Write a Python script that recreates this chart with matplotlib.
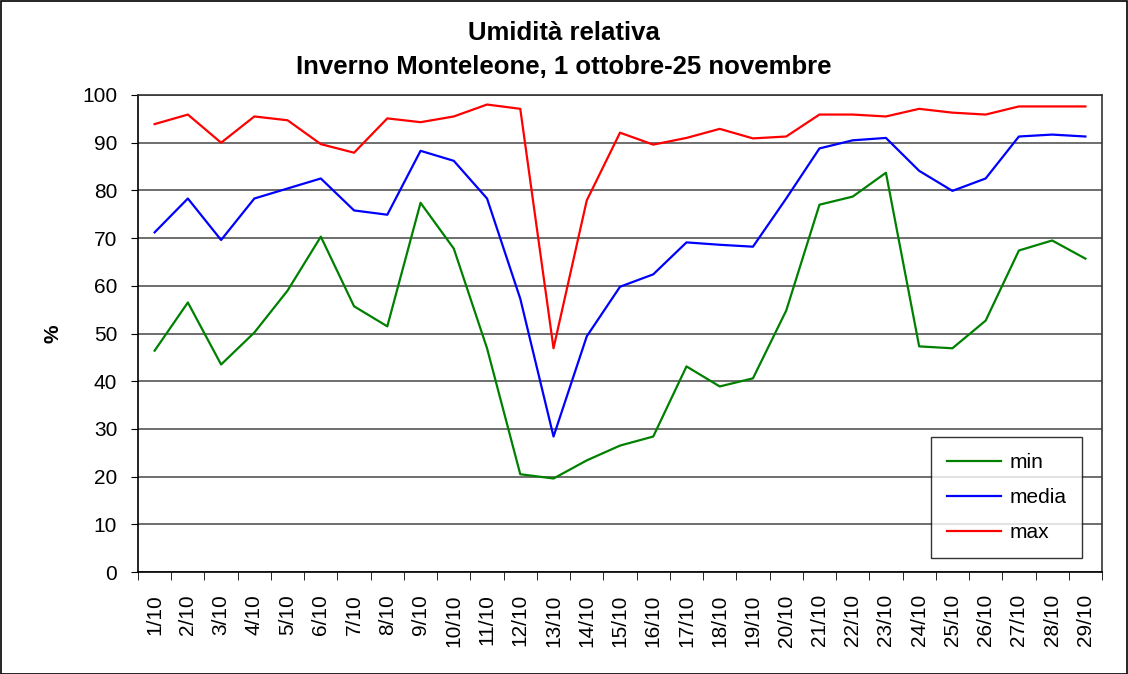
import matplotlib
matplotlib.use("Agg")
import matplotlib.pyplot as plt
from matplotlib.patches import Rectangle
import numpy as np

days = [f"{d}/10" for d in range(1, 30)]
v_min = [46.4, 56.5, 43.5, 50.2, 59.0, 70.3, 55.7, 51.5, 77.4, 67.8,
         46.9, 20.5, 19.6, 23.4, 26.5, 28.4, 43.1, 38.9, 40.6, 54.8,
         77.0, 78.7, 83.7, 47.3, 46.9, 52.7, 67.4, 69.5, 65.7]
v_media = [71.2, 78.3, 69.6, 78.3, 80.4, 82.5, 75.8, 74.9, 88.3, 86.2,
           78.3, 57.3, 28.4, 49.4, 59.8, 62.4, 69.1, 68.6, 68.2, 78.3,
           88.8, 90.5, 91.0, 84.1, 79.9, 82.5, 91.3, 91.7, 91.3]
v_max = [93.9, 95.9, 90.0, 95.5, 94.7, 89.7, 87.9, 95.1, 94.3, 95.5,
         98.0, 97.1, 46.9, 77.9, 92.1, 89.6, 91.0, 92.9, 90.9, 91.3,
         95.9, 95.9, 95.5, 97.1, 96.3, 95.9, 97.6, 97.6, 97.6]
yticks = list(range(0, 101, 10))

plt.rcParams['font.family'] = ['Liberation Sans', 'DejaVu Sans']

W, H = 1128, 674
fig = plt.figure(figsize=(W / 100, H / 100), dpi=100)
left, right, top, bottom = 138, 1102, 95, 572
ax = fig.add_axes([left / W, 1 - bottom / H, (right - left) / W, (bottom - top) / H])

x = np.arange(len(days))
ax.plot(x, v_min, color='#008000', lw=1.6, label='min')
ax.plot(x, v_media, color='#0000FF', lw=1.6, label='media')
ax.plot(x, v_max, color='#FF0000', lw=1.6, label='max')

ax.set_xlim(-0.5, len(days) - 0.5)
ax.set_ylim(0, 100)
ax.set_yticks(yticks)
ax.set_yticklabels([str(t) for t in yticks], fontsize=15)
ax.yaxis.grid(True, color='#555555', lw=1.2)
ax.set_axisbelow(True)

ax.set_xticks(x)
ax.set_xticklabels(days, rotation=90, fontsize=15)
ax.set_xticks(np.arange(-0.5, len(days)), minor=True)
ax.tick_params(axis='x', which='major', length=0, pad=16)
ax.tick_params(axis='x', which='minor', length=6, direction='out', color='black')
ax.tick_params(axis='y', length=5, direction='out', pad=10)

for s in ['left', 'bottom']:
    ax.spines[s].set_color('black')
    ax.spines[s].set_linewidth(1.2)
for s in ['top', 'right']:
    ax.spines[s].set_color('#333333')
    ax.spines[s].set_linewidth(1.2)

ax.set_ylabel('%', fontsize=15, fontweight='bold', labelpad=14)

fig.text(0.5, 1 - 33 / H, 'Umidità relativa', ha='center', va='center',
         fontsize=18.5, fontweight='bold')
fig.text(0.5, 1 - 67 / H, 'Inverno Monteleone, 1 ottobre-25 novembre', ha='center',
         va='center', fontsize=18.5, fontweight='bold')

leg = ax.legend(loc='lower right', bbox_to_anchor=((1082 - left) / (right - left), (572 - 558) / (bottom - top)),
                fontsize=15, frameon=True, fancybox=False, edgecolor='black',
                handlelength=2.6, handletextpad=0.4, labelspacing=0.78, borderpad=0.75,
                borderaxespad=0)
leg.get_frame().set_linewidth(1.0)

fig.patches.append(Rectangle((0.5 / W, 0.5 / H), 1 - 1.5 / W, 1 - 1.5 / H, transform=fig.transFigure,
                             fill=False, edgecolor='black', lw=1.2))

fig.savefig('out.png', dpi=100)
